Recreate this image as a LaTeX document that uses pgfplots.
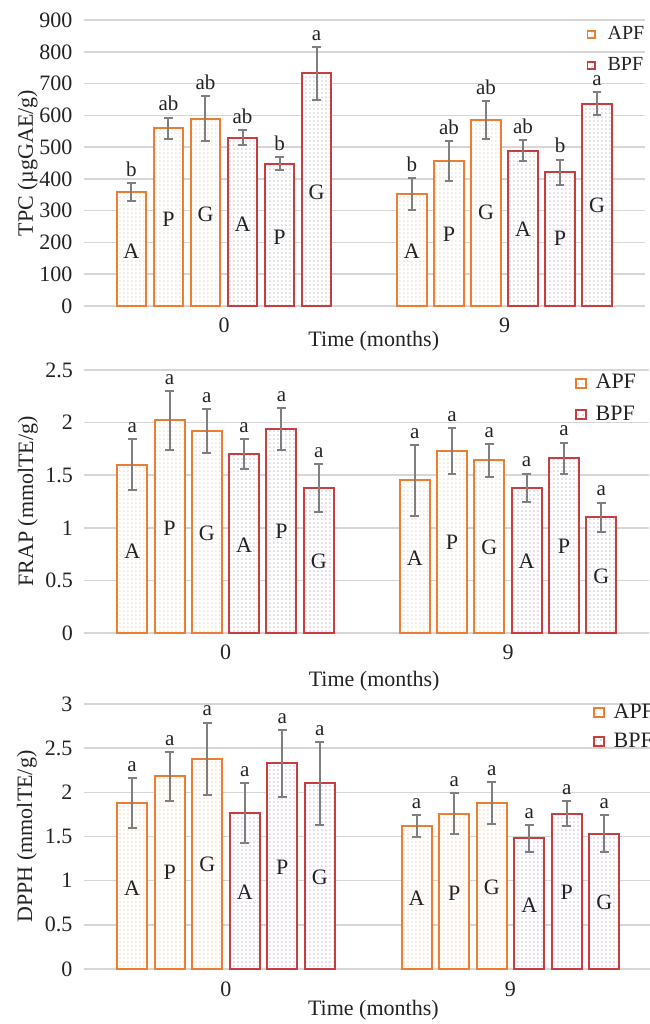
\documentclass[border=0pt]{standalone}
\usepackage{fontspec}
\setmainfont{Liberation Serif}
\usepackage{pgfplots}
\usepackage{pgfplotstable}
\pgfplotsset{compat=1.18}
\usetikzlibrary{patterns}
\pgfdeclarepatternformonly{sdots}{\pgfqpoint{0pt}{0pt}}{\pgfqpoint{2.2pt}{2.2pt}}{\pgfqpoint{2.2pt}{2.2pt}}{\pgfpathcircle{\pgfqpoint{1.1pt}{1.1pt}}{0.34pt}\pgfusepath{fill}}

\definecolor{apf}{RGB}{237,125,49}
\definecolor{apfdot}{RGB}{244,160,100}
\definecolor{bpf}{RGB}{200,62,62}
\definecolor{bpfdot}{RGB}{140,100,200}
\definecolor{errc}{RGB}{127,127,127}
\definecolor{gridc}{RGB}{214,214,214}
\definecolor{txt}{RGB}{35,35,35}

\pgfplotsset{
  panel/.style={
    scale only axis, anchor=south west,
    xmin=-0.5, xmax=1.5,
    xtick={0,1}, xticklabels={0,9},
    axis line style={draw=none},
    major tick length=0pt,
    ymajorgrids, grid style={gridc, line width=0.75pt},
    tick label style={font=\fontsize{11}{13}\selectfont, text=txt},
    /pgf/number format/assume math mode=true,
    xticklabel style={anchor=base, yshift=-13.5pt},
    yticklabel style={xshift=-2.2pt},
    label style={font=\fontsize{11}{13}\selectfont, text=txt},
    xlabel style={anchor=base},
    ylabel style={anchor=center, at={(axis description cs:-0.1,0.5)}},
    clip=false,
    legend cell align=left,
    legend style={draw=none, fill=none, anchor=west, nodes={inner sep=1pt, text=txt}},
  },
  barbase/.style={ybar, bar width=0.106, bar shift=0pt, line width=1pt, fill=white,
    error bars/y dir=both, error bars/y explicit,
    error bars/error mark=-,
    error bars/error bar style={errc, line width=1pt},
    error bars/error mark options={rotate=90, errc, mark size=2.2pt, line width=1pt}},
  apfbar/.style={barbase, draw=apf, postaction={pattern=sdots, pattern color=apfdot}},
  bpfbar/.style={barbase, draw=bpf, postaction={pattern=sdots, pattern color=bpfdot}},
  sqleg/.style={legend image code/.code={\draw[line width=1pt, draw=#1, fill=white] (0pt,-2.3pt) rectangle (4.6pt,2.3pt);}},
  sqlegs/.style={legend image code/.code={\draw[line width=0.9pt, draw=#1, fill=white] (0pt,-1.8pt) rectangle (3.6pt,1.8pt);}},
  above/.style={only marks, mark=none, forget plot,
    nodes near coords, point meta=explicit symbolic,
    every node near coord/.append style={anchor=south, text=txt, font=\fontsize{10.5}{12}\selectfont, inner sep=3pt}},
  inside/.style={only marks, mark=none, forget plot,
    nodes near coords, point meta=explicit symbolic,
    every node near coord/.append style={anchor=center, text=txt, font=\fontsize{11}{13}\selectfont, inner sep=0pt}},
}

% ---------------- TPC ----------------
\pgfplotstableread{
x y e
-0.33 358 28
-0.198 560 33
-0.066 590 72
0.67 352 50
0.802 457 63
0.934 585 61
}\tpcapf
\pgfplotstableread{
x y e
0.066 530 24
0.198 448 20
0.33 732 83
1.066 489 32
1.198 421 40
1.33 636 36
}\tpcbpf
\pgfplotstableread{
x y lab
-0.33 386 b
-0.198 593 ab
-0.066 662 ab
0.066 554 ab
0.198 468 b
0.33 815 a
0.67 402 b
0.802 520 ab
0.934 646 ab
1.066 521 ab
1.198 461 b
1.33 672 a
}\tpclet
\pgfplotstableread{
x y lab
-0.33 172 A
-0.198 274 P
-0.066 290 G
0.066 258 A
0.198 216 P
0.33 358 G
0.67 171 A
0.802 227 P
0.934 294 G
1.066 241 A
1.198 213 P
1.33 316 G
}\tpcin

% ---------------- FRAP ----------------
\pgfplotstableread{
x y e
-0.33 1.60 0.24
-0.198 2.02 0.28
-0.066 1.92 0.21
0.67 1.45 0.34
0.802 1.73 0.22
0.934 1.64 0.16
}\frapapf
\pgfplotstableread{
x y e
0.066 1.70 0.14
0.198 1.94 0.20
0.33 1.38 0.23
1.066 1.38 0.13
1.198 1.66 0.15
1.33 1.10 0.14
}\frapbpf
\pgfplotstableread{
x y lab
-0.33 1.84 a
-0.198 2.30 a
-0.066 2.13 a
0.066 1.84 a
0.198 2.14 a
0.33 1.61 a
0.67 1.79 a
0.802 1.95 a
0.934 1.80 a
1.066 1.52 a
1.198 1.81 a
1.33 1.24 a
}\fraplet
\pgfplotstableread{
x y lab
-0.33 0.78 A
-0.198 1.00 P
-0.066 0.95 G
0.066 0.83 A
0.198 0.97 P
0.33 0.68 G
0.67 0.71 A
0.802 0.865 P
0.934 0.81 G
1.066 0.68 A
1.198 0.82 P
1.33 0.54 G
}\frapin

% ---------------- DPPH ----------------
\pgfplotstableread{
x y e
-0.33 1.88 0.28
-0.198 2.18 0.28
-0.066 2.38 0.41
0.67 1.62 0.125
0.802 1.76 0.23
0.934 1.88 0.24
}\dpphapf
\pgfplotstableread{
x y e
0.066 1.77 0.34
0.198 2.33 0.38
0.33 2.10 0.47
1.066 1.48 0.15
1.198 1.76 0.14
1.33 1.53 0.21
}\dpphbpf
\pgfplotstableread{
x y lab
-0.33 2.16 a
-0.198 2.46 a
-0.066 2.79 a
0.066 2.11 a
0.198 2.71 a
0.33 2.57 a
0.67 1.745 a
0.802 1.99 a
0.934 2.12 a
1.066 1.63 a
1.198 1.90 a
1.33 1.74 a
}\dpphlet
\pgfplotstableread{
x y lab
-0.33 0.91 A
-0.198 1.09 P
-0.066 1.18 G
0.066 0.87 A
0.198 1.15 P
0.33 1.04 G
0.67 0.80 A
0.802 0.86 P
0.934 0.93 G
1.066 0.72 A
1.198 0.87 P
1.33 0.75 G
}\dpphin

\begin{document}
\begin{tikzpicture}
\useasboundingbox (0,0) rectangle (324.5pt,512pt);

% Panel 1
\begin{axis}[panel, at={(41.875pt,359pt)}, width=280.5pt, height=143pt,
  ymin=0, ymax=900, ytick={0,100,...,900},
  ylabel={TPC (µgGAE/g)}, xlabel={Time (months)},
  xlabel style={at={(axis description cs:0.517,-0.14)}},
  legend style={at={(axis description cs:0.885,0.895)}, font=\fontsize{10}{11}\selectfont, row sep=5.5pt,
    /tikz/every odd column/.append style={column sep=5pt}}]
\addplot[apfbar, sqlegs=apf] table[x=x, y=y, y error=e] {\tpcapf};
\addlegendentry{APF}
\addplot[bpfbar, sqlegs=bpf] table[x=x, y=y, y error=e] {\tpcbpf};
\addlegendentry{BPF}
\addplot[above] table[x=x, y=y, meta=lab] {\tpclet};
\addplot[inside] table[x=x, y=y, meta=lab] {\tpcin};
\end{axis}

% Panel 2
\begin{axis}[panel, at={(42.125pt,195.5pt)}, width=282.5pt, height=131.5pt,
  ymin=0, ymax=2.5, ytick={0,0.5,...,2.5},
  ylabel={FRAP (mmolTE/g)}, xlabel={Time (months)},
  xlabel style={at={(axis description cs:0.513,-0.205)}},
  legend style={at={(axis description cs:0.858,0.89)}, font=\fontsize{11}{13}\selectfont, row sep=5pt,
    /tikz/every odd column/.append style={column sep=3.5pt}}]
\addplot[apfbar, sqleg=apf] table[x=x, y=y, y error=e] {\frapapf};
\addlegendentry{APF}
\addplot[bpfbar, sqleg=bpf] table[x=x, y=y, y error=e] {\frapbpf};
\addlegendentry{BPF}
\addplot[above] table[x=x, y=y, meta=lab] {\fraplet};
\addplot[inside] table[x=x, y=y, meta=lab] {\frapin};
\end{axis}

% Panel 3
\begin{axis}[panel, at={(41.875pt,27.5pt)}, width=284.5pt, height=132.5pt,
  ymin=0, ymax=3, ytick={0,0.5,...,3},
  ylabel={DPPH (mmolTE/g)}, xlabel={Time (months)},
  xlabel style={at={(axis description cs:0.509,-0.177)}},
  legend style={at={(axis description cs:0.8845,0.913)}, font=\fontsize{11}{13}\selectfont, row sep=4pt,
    /tikz/every odd column/.append style={column sep=3.5pt}}]
\addplot[apfbar, sqleg=apf] table[x=x, y=y, y error=e] {\dpphapf};
\addlegendentry{APF}
\addplot[bpfbar, sqleg=bpf] table[x=x, y=y, y error=e] {\dpphbpf};
\addlegendentry{BPF}
\addplot[above] table[x=x, y=y, meta=lab] {\dpphlet};
\addplot[inside] table[x=x, y=y, meta=lab] {\dpphin};
\end{axis}
\end{tikzpicture}
\end{document}
